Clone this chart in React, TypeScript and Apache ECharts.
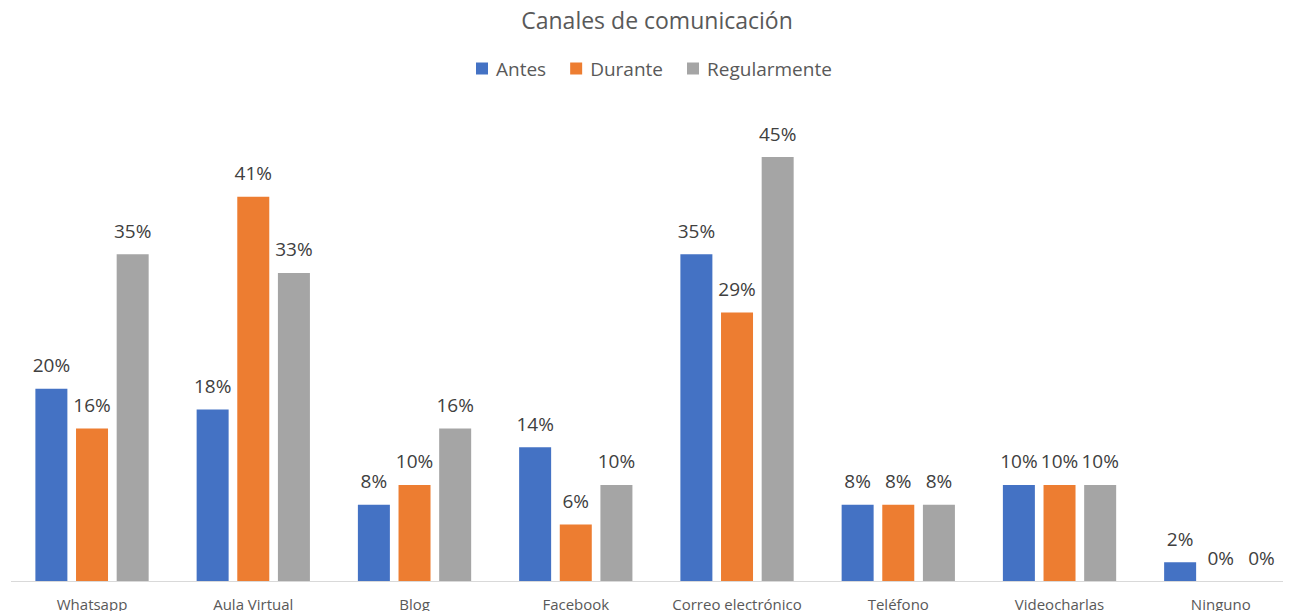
import React, { useEffect, useRef } from "react";
import * as echarts from "echarts";

const categories = ["Whatsapp", "Aula Virtual", "Blog", "Facebook", "Correo electrónico", "Teléfono", "Videocharlas", "Ninguno"];
const antes = [20.4, 18.2, 8.1, 14.2, 34.7, 8.1, 10.2, 2.0];
const durante = [16.2, 40.8, 10.2, 6.0, 28.5, 8.1, 10.2, 0];
const regularmente = [34.7, 32.7, 16.2, 10.2, 45.0, 8.1, 10.2, 0];

const seriesNames = ["Antes", "Durante", "Regularmente"];
const colors = ["#4472C4", "#ED7D31", "#A5A5A5"];

const FONT = "'Open Sans', 'Noto Sans', sans-serif";

export default function App() {
  const ref = useRef<HTMLDivElement>(null);
  useEffect(() => {
    if (!ref.current) return;
    const chart = echarts.init(ref.current, undefined, { renderer: "svg" });
    const label = {
      show: true,
      position: "top",
      distance: 14,
      color: "#404040",
      fontSize: 19,
      fontFamily: FONT,
      formatter: (p: any) => Math.round(p.value) + "%",
    };
    const data = [antes, durante, regularmente];
    chart.setOption({
      animation: false,
      color: colors,
      title: {
        text: "Canales de comunicación",
        left: 644,
        textAlign: "center",
        top: -5,
        textStyle: { color: "#595959", fontSize: 23, fontWeight: "normal", fontFamily: FONT },
      },
      legend: {
        top: 46,
        left: 463,
        itemWidth: 12,
        itemHeight: 12,
        itemGap: 24,
        icon: "rect",
        textStyle: { color: "#595959", fontSize: 19, fontFamily: FONT, padding: [0, 0, 0, 3] },
        data: seriesNames,
      },
      grid: { left: 3.4, top: 102, width: 1290, height: 471, containLabel: false },
      xAxis: {
        type: "category",
        data: categories,
        axisLine: { lineStyle: { color: "#D9D9D9" } },
        axisTick: { show: false },
        axisLabel: { color: "#595959", fontSize: 15, fontFamily: FONT, margin: 15, interval: 0 },
      },
      yAxis: {
        type: "value",
        min: 0,
        max: 50,
        show: false,
        splitLine: { show: false },
      },
      series: seriesNames.map((name, i) => ({
        name,
        type: "bar",
        data: data[i],
        barWidth: 32,
        barGap: "27%",
        label,
      })),
    });
    return () => chart.dispose();
  }, []);
  return (
    <div style={{ width: 1283, height: 603, overflow: "hidden" }}>
      <div ref={ref} style={{ width: 1300, height: 603 }} />
    </div>
  );
}
